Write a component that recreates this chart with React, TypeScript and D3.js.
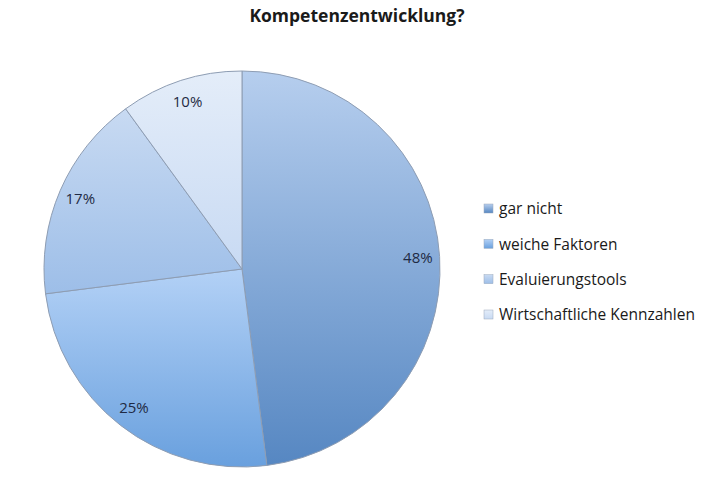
import React from 'react';
import * as d3 from 'd3';

const categories = ['gar nicht', 'weiche Faktoren', 'Evaluierungstools', 'Wirtschaftliche Kennzahlen'];
const values = [48, 25, 17, 10];
const labels = ['48%', '25%', '17%', '10%'];
// top / bottom colour of each slice's gradient
const topColors = ['#b6ceee', '#b3d1f6', '#c8daf2', '#e4edf9'];
const bottomColors = ['#5687c2', '#69a0de', '#9dbee8', '#c8daf3'];

const width = 717;
const height = 478;
const cx = 242;
const cy = 269;
const radius = 198;

const App: React.FC = () => {
  const pie = d3.pie<number>().sort(null).startAngle(0).endAngle(2 * Math.PI);
  const arcs = pie(values);
  const arc = d3.arc<d3.PieArcDatum<number>>().innerRadius(0).outerRadius(radius);
  const labelArc = d3.arc<d3.PieArcDatum<number>>().innerRadius(radius * 0.89).outerRadius(radius * 0.89);

  const legendY = d3.scalePoint<string>().domain(categories).range([209, 315]);

  return (
    <svg width={width} height={height} style={{ display: 'block', position: 'absolute', left: 0, top: 0 }}>
      <defs>
        {categories.map((c, i) => (
          <linearGradient key={c} id={`g${i}`} x1="0" y1="0" x2="0" y2="1">
            <stop offset="0" stopColor={topColors[i]} />
            <stop offset="1" stopColor={bottomColors[i]} />
          </linearGradient>
        ))}
      </defs>
      <rect width={width} height={height} fill="#fff" />
      <text x={357} y={22} textAnchor="middle" fontFamily="'Open Sans', sans-serif" fontWeight="bold" fontSize={17.5} fill="#1a1a1a">
        Kompetenzentwicklung?
      </text>
      <g transform={`translate(${cx},${cy})`}>
        {arcs.map((a, i) => (
          <path key={i} d={arc(a) ?? ''} fill={`url(#g${i})`} stroke="#8e9db3" strokeWidth={1} strokeLinejoin="round" />
        ))}
        {arcs.map((a, i) => {
          const [x, y] = labelArc.centroid(a);
          return (
            <text key={i} x={x} y={y} dy="0.35em" textAnchor="middle" fontFamily="'Open Sans', sans-serif" fontSize={15} fill="#1f2a44">
              {labels[i]}
            </text>
          );
        })}
      </g>
      <g fontFamily="'Open Sans', sans-serif" fontSize={15.5} fill="#1a1a1a">
        {categories.map((c, i) => (
          <g key={c} transform={`translate(484,${legendY(c)})`}>
            <rect x={0} y={-5} width={9} height={9} fill={`url(#g${i})`} stroke="#9aa9bd" strokeWidth={0.5} />
            <text x={15} y={0} dy="0.35em">{c}</text>
          </g>
        ))}
      </g>
    </svg>
  );
};

export default App;
